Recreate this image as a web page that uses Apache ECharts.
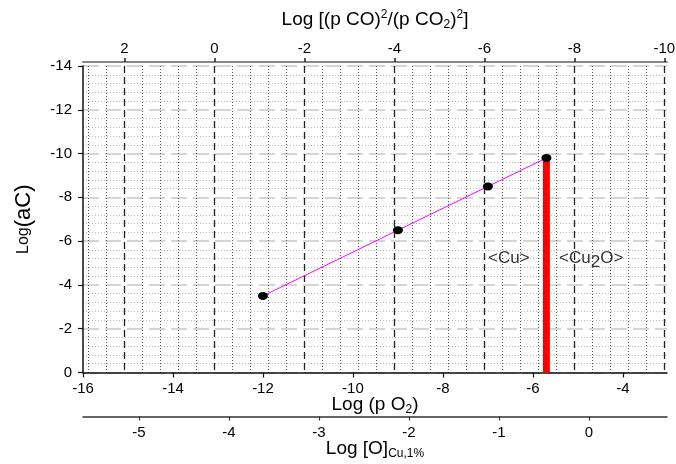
<!DOCTYPE html>
<html><head><meta charset="utf-8">
<script src="https://cdn.jsdelivr.net/npm/echarts@6/dist/echarts.min.js"></script>
<style>html,body{margin:0;padding:0;background:#fff}#c{width:676px;height:464px}</style>
</head><body><div id="c"></div>
<script>
// ---- data ----
const pO2 = [-12, -9, -7, -5.7];          // Log (p O2)
const logAC = [-3.5, -6.5, -8.5, -9.8];   // Log (a C)
const boundaryPO2 = [-5.7, -5.7];         // Cu / Cu2O boundary (red bar)
const boundaryAC = [0, -9.8];
const phaseLabels = ['<Cu>', '<Cu{s|2}O>'];
const phaseX = [-7.0, -5.42];
const phaseY = [-5.2, -5.2];

// ---- axes ----
const pO2Range = [-16, -3.02];
const pO2Ticks = [-16, -14, -12, -10, -8, -6, -4];
const coTicks = [2, 0, -2, -4, -6, -8, -10];
const oTicks = [-5, -4, -3, -2, -1, 0];
const coOffset = 13.08;   // top axis value = -pO2 - coOffset
const oOffset = 2.378;    // Log[O] = pO2/2 + oOffset
const yRange = [-14, 0];

const coRange = [-pO2Range[1] - coOffset, -pO2Range[0] - coOffset];
const oRange = [pO2Range[0] / 2 + oOffset, pO2Range[1] / 2 + oOffset];
const coMinor = [];
for (let k = -25; k <= 7; k++) { if (k % 5 !== 0) coMinor.push(+(k * 0.4).toFixed(1)); }

const FONT = 'Liberation Sans, Arial, sans-serif';
const tickLabel = { fontFamily: FONT, fontSize: 15, color: '#000' };

const chart = echarts.init(document.getElementById('c'));
chart.setOption({
  animation: false,
  backgroundColor: '#fff',
  grid: { left: 83, right: 9, top: 66, bottom: 91.5, containLabel: false, outerBoundsMode: 'none' },
  xAxis: [
    { // bottom Log (p O2)
      type: 'value', position: 'bottom', min: pO2Range[0], max: pO2Range[1],
      name: 'Log (p O{sub|2})', nameLocation: 'middle', nameGap: 21, nameMoveOverlap: false,
      nameTextStyle: { fontFamily: FONT, fontSize: 19, color: '#000', lineHeight: 22,
        rich: { sub: { fontFamily: FONT, fontSize: 12, verticalAlign: 'bottom', lineHeight: 22, color: '#000' } } },
      axisLine: { show: true, onZero: false, lineStyle: { color: '#111', width: 1.5 } },
      axisTick: { show: true, customValues: pO2Ticks, length: 5, lineStyle: { color: '#111', width: 1.2 } },
      axisLabel: { customValues: pO2Ticks, margin: 9, ...tickLabel },
      splitLine: { show: false }
    },
    { // top Log[(pCO)^2/(pCO2)^2]
      type: 'value', position: 'top', offset: 4, inverse: true, min: coRange[0], max: coRange[1],
      name: 'Log [(p CO){sup|2}/(p CO{sub|2}){sup|2}]', nameLocation: 'middle', nameGap: 31, nameMoveOverlap: false,
      nameTextStyle: { fontFamily: FONT, fontSize: 19, color: '#000', lineHeight: 22,
        rich: {
          sup: { fontFamily: FONT, fontSize: 12, verticalAlign: 'top', lineHeight: 22, color: '#000' },
          sub: { fontFamily: FONT, fontSize: 12, verticalAlign: 'bottom', lineHeight: 22, color: '#000' }
        } },
      axisLine: { show: true, onZero: false, lineStyle: { color: '#888', width: 2 } },
      axisTick: { show: true, customValues: coTicks, length: 4, lineStyle: { color: '#222', width: 1.5 } },
      axisLabel: { customValues: coTicks, margin: 6, ...tickLabel },
      splitLine: { show: true, lineStyle: { color: '#222', width: 1.3, type: [7, 4] } }
    },
    { // minor vertical grid (dotted), top-axis units
      type: 'value', position: 'top', inverse: true, min: coRange[0], max: coRange[1],
      axisLine: { show: false },
      axisLabel: { show: false, customValues: coMinor },
      axisTick: { show: true, customValues: coMinor, length: 0, lineStyle: { opacity: 0 } },
      splitLine: { show: true, lineStyle: { color: '#555', width: 1, type: [1, 2] } }
    },
    { // Log [O]Cu,1%
      type: 'value', position: 'bottom', offset: 44, min: oRange[0], max: oRange[1],
      name: 'Log [O]{sub|Cu,1%}', nameLocation: 'middle', nameGap: 21, nameMoveOverlap: false,
      nameTextStyle: { fontFamily: FONT, fontSize: 19, color: '#000', lineHeight: 22,
        rich: { sub: { fontFamily: FONT, fontSize: 12, verticalAlign: 'bottom', lineHeight: 22, color: '#000' } } },
      axisLine: { show: true, onZero: false, lineStyle: { color: '#333', width: 1.5 } },
      axisTick: { show: true, customValues: oTicks, length: 4, lineStyle: { color: '#333', width: 1.2 } },
      axisLabel: { customValues: oTicks, margin: 9, ...tickLabel },
      splitLine: { show: false }
    }
  ],
  yAxis: {
    type: 'value', inverse: true, min: yRange[0], max: yRange[1], interval: 2,
    name: '{s|Log}{b|(aC)}', nameLocation: 'middle', nameGap: 48, nameMoveOverlap: false,
    nameTextStyle: { fontFamily: FONT, color: '#000',
      rich: { s: { fontFamily: FONT, fontSize: 16, color: '#000' }, b: { fontFamily: FONT, fontSize: 22, color: '#000' } } },
    axisLine: { show: true, onZero: false, lineStyle: { color: '#111', width: 1.5 } },
    axisTick: { show: true, length: 5, lineStyle: { color: '#111', width: 1.2 } },
    axisLabel: { margin: 11, ...tickLabel },
    splitLine: { show: true, lineStyle: { color: '#c8c8c8', width: 1.5, type: [16, 6] } },
    minorTick: { show: false, splitNumber: 5 },
    minorSplitLine: { show: true, lineStyle: { color: '#bbb', width: 1, type: [1, 2] } }
  },
  series: [
    {
      type: 'line', xAxisIndex: 0, symbol: 'none', silent: true,
      data: boundaryPO2.map((x, i) => [x, boundaryAC[i]]),
      lineStyle: { color: '#ff0000', width: 7, cap: 'butt' }, z: 3
    },
    {
      type: 'line', xAxisIndex: 0, symbol: 'none',
      data: pO2.map((x, i) => [x, logAC[i]]),
      lineStyle: { color: '#ff00ff', width: 1 }, z: 4
    },
    {
      type: 'scatter', xAxisIndex: 0, symbol: 'circle', symbolSize: [10, 8],
      itemStyle: { color: '#000', opacity: 1 },
      data: pO2.map((x, i) => [x, logAC[i]]), z: 5
    },
    {
      type: 'scatter', xAxisIndex: 0, symbolSize: 0.1, silent: true,
      data: phaseX.map((x, i) => ({ value: [x, phaseY[i]], name: phaseLabels[i] })),
      label: { show: true, position: 'right', distance: 0, formatter: '{b}',
        fontFamily: FONT, fontSize: 17, color: '#000', lineHeight: 20,
        rich: { s: { fontFamily: FONT, fontSize: 17, color: '#000', padding: [8, 0, 0, 0] } } },
      z: 6
    }
  ]
});
</script></body></html>
